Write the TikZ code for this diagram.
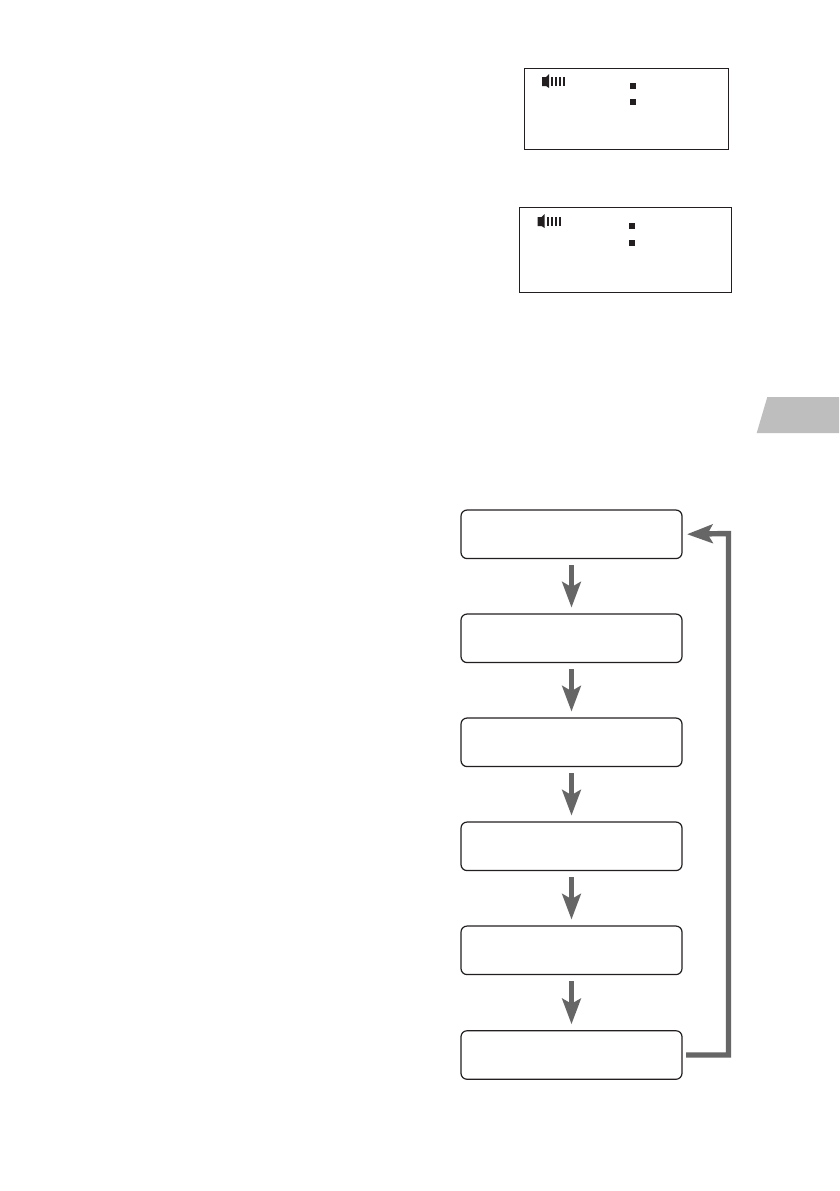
\documentclass[tikz,border=0pt]{standalone}
\usetikzlibrary{arrows.meta}
\definecolor{ink}{HTML}{231F20}
\definecolor{flow}{HTML}{666666}
\definecolor{tabgray}{HTML}{BEBEBE}
\tikzset{
  x=1pt,y=-1pt,
  lcd/.style={draw=ink,line width=1.1pt,fill=white,inner sep=0pt,outer sep=0pt},
  bullet/.style={fill=ink,inner sep=0pt,outer sep=0pt,minimum width=6.4pt,minimum height=6pt},
  flowbox/.style={draw=ink,line width=1.2pt,fill=white,rounded corners=6pt,inner sep=0pt,outer sep=0pt,minimum width=221pt,minimum height=48.5pt},
  flowarrow/.style={draw=flow,line width=5.4pt,-{Stealth[length=25.5pt,width=18.5pt,inset=5pt]},shorten <=6.5pt,shorten >=6.5pt},
  speaker/.pic={
    \fill[ink] (0,3) -- (4,3) -- (7,0) -- (7,14) -- (4,12) -- (0,12) -- cycle;
    \foreach \bx in {9,13,17,21} \fill[ink] (\bx,3) rectangle ++(2,8.7);
  }
}
\begin{document}
\begin{tikzpicture}
\useasboundingbox (0,0) rectangle (839,1191);
\fill[white] (0,0) rectangle (839,1191);
% side tab
\fill[tabgray] (767.3,397) -- (839,397) -- (839,433) -- (756.7,433) -- cycle;
% display 1
\node[lcd,minimum width=204pt,minimum height=81pt] (lcdA) at (626.6,109) {};
\pic at (542,74) {speaker};
\node[bullet] (a1) at (633,85.5) {};
\node[bullet] (a2) at (633,101.5) {};
% display 2
\node[lcd,minimum width=212.5pt,minimum height=85pt] (lcdB) at (625.5,250) {};
\pic at (537.5,214) {speaker};
\node[bullet] (b1) at (632,225.5) {};
\node[bullet] (b2) at (632,242.5) {};
% flow
\node[flowbox] (s1) at (571.5,534.3) {};
\node[flowbox] (s2) at (571.5,638.3) {};
\node[flowbox] (s3) at (571.5,742.3) {};
\node[flowbox] (s4) at (571.5,846.3) {};
\node[flowbox] (s5) at (571.5,950.3) {};
\node[flowbox] (s6) at (571.5,1055) {};
\draw[flowarrow] (s1) -- (s2);
\draw[flowarrow] (s2) -- (s3);
\draw[flowarrow] (s3) -- (s4);
\draw[flowarrow] (s4) -- (s5);
\draw[flowarrow] (s5) -- (s6);
\draw[flowarrow,shorten <=4pt,shorten >=5pt,line join=miter] (s6.east) -- (728.5,1055) -- (728.5,533.5) -- (s1.east);
\end{tikzpicture}
\end{document}
